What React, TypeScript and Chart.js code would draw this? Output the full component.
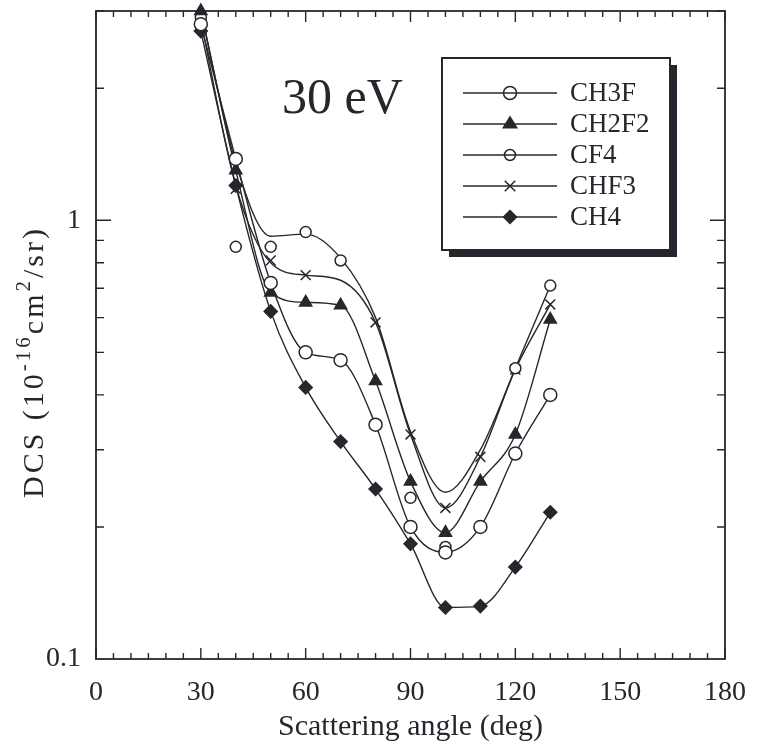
import React, { useEffect, useRef } from 'react';
import { Chart, registerables } from 'chart.js';

Chart.register(...registerables);

// ---------- data ----------
const angles = [30, 40, 50, 60, 70, 80, 90, 100, 110, 120, 130];
const seriesNames = ['CH3F', 'CH2F2', 'CF4', 'CHF3', 'CH4'];

// measured points
const ch3fPoints = [2.8, 1.38, 0.72, 0.5, 0.48, 0.342, 0.2, 0.175, 0.2, 0.294, 0.4];
const ch2f2Points = [3.0, 1.3, 0.685, 0.65, 0.64, 0.43, 0.254, 0.194, 0.254, 0.325, 0.594];
const cf4Points = [2.9, 0.87, 0.87, 0.94, 0.81, null, 0.233, 0.18, null, 0.46, 0.71];
const chf3Points = [2.8, 1.18, 0.81, 0.75, null, 0.585, 0.325, 0.221, 0.289, 0.457, 0.643];
const ch4Points = [2.7, 1.2, 0.62, 0.416, 0.313, 0.244, 0.183, 0.131, 0.132, 0.162, 0.216];

// drawn curves
const ch3fCurve = [2.8, 1.38, 0.72, 0.5, 0.48, 0.342, 0.2, 0.175, 0.2, 0.294, 0.4];
const ch2f2Curve = [3.0, 1.3, 0.685, 0.65, 0.64, 0.43, 0.254, 0.194, 0.254, 0.325, 0.594];
const cf4Curve = [3.0, 1.35, 0.92, 0.93, 0.82, 0.6, 0.33, 0.24, 0.3, 0.46, 0.71];
const chf3Curve = [2.85, 1.2, 0.8, 0.75, 0.73, 0.585, 0.325, 0.221, 0.289, 0.457, 0.643];
const ch4Curve = [2.7, 1.2, 0.62, 0.416, 0.313, 0.244, 0.183, 0.131, 0.132, 0.162, 0.216];

const xTickLabels = [0, 30, 60, 90, 120, 150, 180];
const xMinorMarks = [0, 5, 10, 15, 20, 25, 30, 35, 40, 45, 50, 55, 60, 65, 70, 75, 80, 85, 90, 95, 100, 105, 110, 115, 120, 125, 130, 135, 140, 145, 150, 155, 160, 165, 170, 175, 180];
const yTickLabels = [0.1, 1];
const yMarks = [0.2, 0.3, 0.4, 0.5, 0.6, 0.7, 0.8, 0.9, 1, 2, 3];

const pointsList = [ch3fPoints, ch2f2Points, cf4Points, chf3Points, ch4Points];
const curveList = [ch3fCurve, ch2f2Curve, cf4Curve, chf3Curve, ch4Curve];

// ---------- styles ----------
const INK = '#24282c';
const FONT = '"Liberation Serif", "Times New Roman", serif';
const markerStyles = [
  { style: 'circle', r: 6.5, fill: '#ffffff' },
  { style: 'triangle', r: 7, fill: INK },
  { style: 'circle', r: 5.5, fill: '#ffffff' },
  { style: 'crossRot', r: 7, fill: INK },
  { style: 'rectRot', r: 6.5, fill: INK },
];

function drawMarker(ctx: CanvasRenderingContext2D, style: string, x: number, y: number, r: number, fill: string) {
  ctx.save();
  ctx.strokeStyle = INK;
  ctx.fillStyle = fill;
  ctx.lineWidth = 1.5;
  ctx.beginPath();
  if (style === 'circle') {
    ctx.arc(x, y, r, 0, Math.PI * 2);
    ctx.fill();
    ctx.stroke();
  } else if (style === 'triangle') {
    ctx.moveTo(x, y - r);
    ctx.lineTo(x + r * 0.95, y + r * 0.55);
    ctx.lineTo(x - r * 0.95, y + r * 0.55);
    ctx.closePath();
    ctx.fill();
    ctx.stroke();
  } else if (style === 'crossRot') {
    const d = r * 0.75;
    ctx.moveTo(x - d, y - d);
    ctx.lineTo(x + d, y + d);
    ctx.moveTo(x + d, y - d);
    ctx.lineTo(x - d, y + d);
    ctx.stroke();
  } else if (style === 'rectRot') {
    ctx.moveTo(x, y - r);
    ctx.lineTo(x + r, y);
    ctx.lineTo(x, y + r);
    ctx.lineTo(x - r, y);
    ctx.closePath();
    ctx.fill();
    ctx.stroke();
  }
  ctx.restore();
}

const decorPlugin = {
  id: 'decor',
  beforeDatasetsDraw(chart: any) {
    const { ctx, chartArea: a, scales } = chart;
    const xs = scales.x;
    const ys = scales.y;
    ctx.save();
    ctx.strokeStyle = INK;
    ctx.lineWidth = 1.8;
    ctx.strokeRect(a.left, a.top, a.right - a.left, a.bottom - a.top);
    ctx.lineWidth = 1.4;
    ctx.beginPath();
    for (const v of xMinorMarks) {
      const px = xs.getPixelForValue(v);
      const len = v % 30 === 0 ? 11 : 6;
      ctx.moveTo(px, a.bottom);
      ctx.lineTo(px, a.bottom - len);
      ctx.moveTo(px, a.top);
      ctx.lineTo(px, a.top + len);
    }
    for (const v of yMarks) {
      const py = ys.getPixelForValue(v);
      const len = v === 1 ? 15 : 8;
      ctx.moveTo(a.left, py);
      ctx.lineTo(a.left + len, py);
      ctx.moveTo(a.right, py);
      ctx.lineTo(a.right - len, py);
    }
    ctx.stroke();
    ctx.restore();
  },
  afterDraw(chart: any) {
    const { ctx, chartArea: a } = chart;
    ctx.save();
    // legend box
    const bx = a.left + 346;
    const by = a.top + 47;
    const bw = 228;
    const bh = 192;
    ctx.fillStyle = INK;
    ctx.fillRect(bx + 7, by + 7, bw, bh);
    ctx.fillStyle = '#ffffff';
    ctx.fillRect(bx, by, bw, bh);
    ctx.strokeStyle = INK;
    ctx.lineWidth = 2;
    ctx.strokeRect(bx, by, bw, bh);
    seriesNames.forEach((name, i) => {
      const ry = a.top + 82 + i * 31;
      ctx.strokeStyle = INK;
      ctx.lineWidth = 1.4;
      ctx.beginPath();
      ctx.moveTo(a.left + 367, ry);
      ctx.lineTo(a.left + 461, ry);
      ctx.stroke();
      const m = markerStyles[i];
      drawMarker(ctx, m.style, a.left + 414, ry, m.r, m.fill === '#ffffff' ? 'rgba(255,255,255,0)' : m.fill);
      ctx.fillStyle = INK;
      ctx.font = `27px ${FONT}`;
      ctx.textBaseline = 'middle';
      ctx.textAlign = 'left';
      ctx.fillText(name, a.left + 474, ry + 1);
    });
    // energy label
    ctx.fillStyle = INK;
    ctx.font = `50px ${FONT}`;
    ctx.textBaseline = 'alphabetic';
    ctx.textAlign = 'left';
    ctx.fillText('30 eV', a.left + 186, a.top + 102);

    // y-axis title with superscripts
    const parts: [string, number, number][] = [
      ['DCS (10', 30, 0],
      ['-16', 21, -11],
      ['cm', 30, 0],
      ['2', 21, -11],
      ['/sr)', 30, 0],
    ];
    (ctx as any).letterSpacing = '3px';
    let total = 0;
    const widths: number[] = [];
    for (const [t, s] of parts) {
      ctx.font = `${s}px ${FONT}`;
      const w = ctx.measureText(t).width;
      widths.push(w);
      total += w;
    }
    ctx.translate(a.left - 63, (a.top + a.bottom) / 2 + 27);
    ctx.rotate(-Math.PI / 2);
    let cx = -total / 2;
    ctx.textBaseline = 'middle';
    parts.forEach(([t, s, dy], i) => {
      ctx.font = `${s}px ${FONT}`;
      ctx.fillText(t, cx, dy + 2);
      cx += widths[i];
    });
    ctx.restore();
  },
};

export default function App() {
  const ref = useRef<HTMLCanvasElement | null>(null);
  useEffect(() => {
    if (!ref.current) return;
    const datasets: any[] = [];
    seriesNames.forEach((name, i) => {
      datasets.push({
        label: name + ' curve',
        data: angles.map((a, j) => ({ x: a, y: curveList[i][j] })),
        borderColor: INK,
        borderWidth: 1.4,
        pointRadius: 0,
        cubicInterpolationMode: 'monotone',
        fill: false,
        order: 2,
      });
    });
    seriesNames.forEach((name, i) => {
      const m = markerStyles[i];
      datasets.push({
        label: name,
        data: angles
          .map((a, j) => ({ x: a, y: pointsList[i][j] }))
          .filter((p) => p.y !== null),
        showLine: false,
        pointStyle: m.style,
        pointRadius: m.r,
        pointBackgroundColor: m.fill,
        pointBorderColor: INK,
        pointBorderWidth: 1.5,
        borderColor: INK,
        clip: false,
        order: 1,
      });
    });
    const zeroPad = (s: any) => {
      s.paddingTop = 0;
      s.paddingBottom = 0;
      s.paddingLeft = 0;
      s.paddingRight = 0;
    };
    const chart = new Chart(ref.current, {
      type: 'line',
      data: { datasets },
      plugins: [decorPlugin],
      options: {
        animation: false,
        responsive: false,
        events: [],
        layout: { padding: { left: 0, right: 35, top: 11, bottom: 0 } },
        plugins: { legend: { display: false }, tooltip: { enabled: false } },
        scales: {
          x: {
            type: 'linear',
            min: 0,
            max: 180,
            grid: { display: false, drawTicks: false },
            border: { display: false },
            afterBuildTicks: (s: any) => {
              s.ticks = xTickLabels.map((v) => ({ value: v }));
            },
            afterFit: (s: any) => {
              s.height = 87;
              zeroPad(s);
            },
            ticks: {
              color: INK,
              padding: 17,
              maxRotation: 0,
              font: { family: FONT, size: 28 },
              callback: (v: any) => String(v),
            },
            title: {
              display: true,
              text: 'Scattering angle (deg)',
              color: INK,
              font: { family: FONT, size: 30 },
              padding: { top: 0, bottom: 1 },
            },
          },
          y: {
            type: 'logarithmic',
            min: 0.1,
            max: 3,
            grid: { display: false, drawTicks: false },
            border: { display: false },
            afterBuildTicks: (s: any) => {
              s.ticks = yTickLabels.map((v) => ({ value: v }));
            },
            afterFit: (s: any) => {
              s.width = 96;
              zeroPad(s);
            },
            ticks: {
              color: INK,
              padding: 15,
              font: { family: FONT, size: 28 },
              callback: (v: any) => String(v),
            },
          },
        },
      },
    });
    return () => chart.destroy();
  }, []);
  return (
    <div style={{ position: 'absolute', left: 0, top: 0, width: 760, height: 746, background: '#fff' }}>
      <canvas ref={ref} width={760} height={746} style={{ display: 'block' }} />
    </div>
  );
}
